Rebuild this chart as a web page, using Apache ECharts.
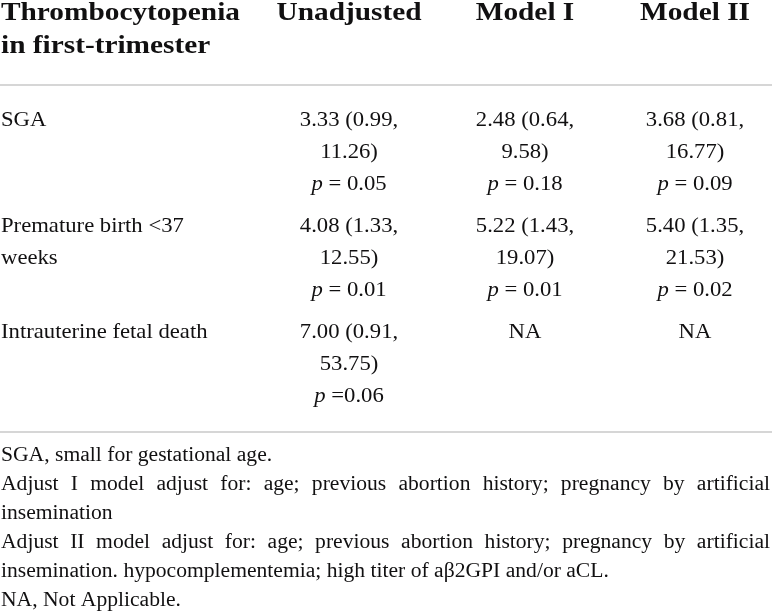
<!DOCTYPE html>
<html>
<head>
<meta charset="utf-8">
<title>Thrombocytopenia in first-trimester</title>
<script src="https://cdn.jsdelivr.net/npm/echarts@6/dist/echarts.min.js"></script>
<style>
    html, body { margin: 0; padding: 0; background: #fff; }
    #main { width: 772px; height: 612px; }
</style>
</head>
<body>
<div id="main"></div>
<script>
// table content
var headers = ['Thrombocytopenia\nin first-trimester', 'Unadjusted', 'Model I', 'Model II'];
var outcomes = ['SGA', 'Premature birth <37\nweeks', 'Intrauterine fetal death'];

var orUnadjusted = [3.33, 4.08, 7.00];
var ciUnadjusted = [[0.99, 11.26], [1.33, 12.55], [0.91, 53.75]];
var pUnadjusted = ['p = 0.05', 'p = 0.01', 'p =0.06'];

var orModel1 = [2.48, 5.22, null];
var ciModel1 = [[0.64, 9.58], [1.43, 19.07], null];
var pModel1 = ['p = 0.18', 'p = 0.01', null];

var orModel2 = [3.68, 5.40, null];
var ciModel2 = [[0.81, 16.77], [1.35, 21.53], null];
var pModel2 = ['p = 0.09', 'p = 0.02', null];

var footnotes = [
    'SGA, small for gestational age.',
    'Adjust I model adjust for: age; previous abortion history; pregnancy by artificial\ninsemination',
    'Adjust II model adjust for: age; previous abortion history; pregnancy by artificial\ninsemination. hypocomplementemia; high titer of a\u03b22GPI and/or aCL.',
    'NA, Not Applicable.'
];

// layout
var W = 772, H = 612;
var FONT = '"Liberation Serif", "Times New Roman", serif';
var INK = '#111011';
var colX = [1, 349, 525, 695];
var colAlign = ['left', 'center', 'center', 'center'];
var headerY = 13, headerLH = 33;
var bodyY = 120, bodyLH = 32, rowStride = 106;
var noteY = 456, noteLH = 29;
var ruleY = [85, 432];

var headStyle = { size: 25.5, sx: 1.15, weight: 'bold' };
var bodyStyle = { size: 21, sx: 1.08, weight: 'normal' };
var noteStyle = { size: 20, sx: 1.08, weight: 'normal' };

var measureCtx = document.createElement('canvas').getContext('2d');
function textWidth(str, st) {
    measureCtx.font = st.weight + ' ' + st.size + 'px ' + FONT;
    return measureCtx.measureText(str).width * st.sx;
}

function cellLines(or, ci, p) {
    if (or == null) {
        return ['NA'];
    }
    return [or.toFixed(2) + ' (' + ci[0].toFixed(2) + ',', ci[1].toFixed(2) + ')', p];
}

var items = [];
function addText(x, y, text, align, st) {
    items.push({ x: x, y: y, text: text, align: align, st: st });
}

// header
headers.forEach(function (h, c) {
    h.split('\n').forEach(function (line, l) {
        addText(colX[c], headerY + l * headerLH, line, colAlign[c], headStyle);
    });
});

// body
var cols = [
    [orUnadjusted, ciUnadjusted, pUnadjusted],
    [orModel1, ciModel1, pModel1],
    [orModel2, ciModel2, pModel2]
];
outcomes.forEach(function (name, r) {
    var top = bodyY + r * rowStride;
    name.split('\n').forEach(function (line, l) {
        addText(colX[0], top + l * bodyLH, line, 'left', bodyStyle);
    });
    cols.forEach(function (col, c) {
        cellLines(col[0][r], col[1][r], col[2][r]).forEach(function (line, l) {
            addText(colX[c + 1], top + l * bodyLH, line, 'center', bodyStyle);
        });
    });
});

// footnotes, justified except the last line of each note
var noteLine = 0;
footnotes.forEach(function (note) {
    var lines = note.split('\n');
    lines.forEach(function (line, l) {
        var y = noteY + noteLine * noteLH;
        if (l < lines.length - 1) {
            var words = line.split(' ');
            var sum = 0;
            words.forEach(function (w) { sum += textWidth(w, noteStyle); });
            var gap = (W - 2 - colX[0] - sum) / (words.length - 1);
            var x = colX[0];
            words.forEach(function (w) {
                addText(x, y, w, 'left', noteStyle);
                x += textWidth(w, noteStyle) + gap;
            });
        } else {
            addText(colX[0], y, line, 'left', noteStyle);
        }
        noteLine++;
    });
});

var myChart = echarts.init(document.getElementById('main'));

var option = {
    animation: false,
    grid: { left: 0, right: 0, top: 0, bottom: 0 },
    xAxis: { type: 'value', min: 0, max: W, show: false },
    yAxis: { type: 'value', min: 0, max: H, inverse: true, show: false },
    series: [{
        type: 'custom',
        silent: true,
        clip: false,
        data: items.map(function (d, i) { return [d.x, d.y, i]; }),
        renderItem: function (params, api) {
            var d = items[api.value(2)];
            var pt = api.coord([api.value(0), api.value(1)]);
            var txt = d.text.replace(/^p /, '{i|p} ');
            return {
                type: 'text',
                x: pt[0],
                y: pt[1],
                scaleX: d.st.sx,
                style: {
                    text: txt,
                    fontFamily: FONT,
                    fontSize: d.st.size,
                    fontWeight: d.st.weight,
                    fill: INK,
                    align: d.align,
                    verticalAlign: 'middle',
                    rich: {
                        i: { fontStyle: 'italic', fontFamily: FONT, fontSize: d.st.size, fill: INK }
                    }
                }
            };
        }
    }, {
        type: 'line',
        data: [],
        silent: true,
        markLine: {
            silent: true,
            symbol: 'none',
            label: { show: false },
            lineStyle: { color: '#c9c9c9', width: 1.5, type: 'solid' },
            data: ruleY.map(function (y) { return { yAxis: y }; })
        }
    }]
};

myChart.setOption(option);
</script>
</body>
</html>
